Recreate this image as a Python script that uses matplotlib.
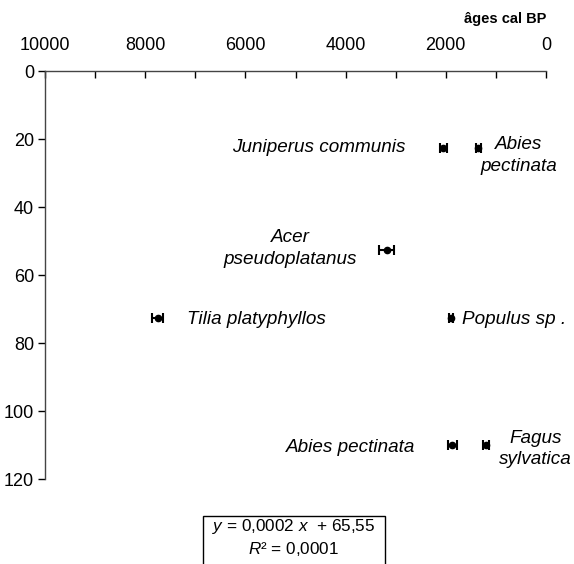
import matplotlib
matplotlib.use("Agg")
import matplotlib.pyplot as plt
from matplotlib.patches import Rectangle

plt.rcParams["font.family"] = ["Liberation Sans", "DejaVu Sans"]
plt.rcParams["mathtext.fontset"] = "custom"
plt.rcParams["mathtext.rm"] = "Liberation Sans"
plt.rcParams["mathtext.it"] = "Liberation Sans:italic"

# --------------------

taxa = ["Juniperus communis", "Abies\npectinata", "Acer\npseudoplatanus",
        "Tilia platyphyllos", "Populus sp .", "Abies pectinata", "Fagus\nsylvatica"]
ages = [2050, 1350, 3180, 7750, 1890, 1870, 1190]
age_err = [70, 50, 150, 110, 40, 90, 60]
depth = [22.5, 22.5, 52.5, 72.5, 72.5, 110, 110]

# label offsets in pixels (dx, dy) and alignment
label_pos = [(-38, 0, "right"), (40, -8, "center"), (-96, 1, "center"),
             (29, -2, "left"), (11, -2, "left"), (-37, -3, "right"), (49, -4, "center")]

# --------------------

fig = plt.figure(figsize = (5.74, 5.64), dpi = 100)
ax = fig.add_axes([45 / 574, 1 - 479 / 564, (546 - 45) / 574, (479 - 71) / 564])

ax.errorbar(ages, depth, xerr = age_err, fmt = "o", color = "black",
            markersize = 4.5, elinewidth = 1.5, capsize = 3.5, capthick = 1.5)

for name, x, y, (dx, dy, ha) in zip(taxa, ages, depth, label_pos):
    ax.annotate(name, (x, y), xytext = (dx, dy), textcoords = "offset pixels",
                ha = ha, va = "center", fontsize = 13.6, style = "italic",
                linespacing = 1.35)

ax.set_xlim(10000, 0)
ax.set_ylim(120, 0)
ax.xaxis.tick_top()
ax.set_xticks(range(0, 10001, 2000))
ax.set_xticks(range(1000, 10000, 2000), minor = True)
ax.set_yticks(range(0, 121, 20))
ax.tick_params(axis = "x", which = "both", direction = "in", length = 5,
               width = 1, labelsize = 13, pad = 12)
ax.tick_params(axis = "y", direction = "out", length = 5, width = 1,
               labelsize = 13, pad = 3)
ax.spines["right"].set_visible(False)
ax.spines["bottom"].set_visible(False)
for s in ["top", "left"]:
    ax.spines[s].set_color("#444444")
    ax.spines[s].set_linewidth(1)

fig.text(546 / 574, 1 - 19 / 564, "âges cal BP", ha = "right", va = "center",
         fontsize = 10.5, fontweight = "bold")

# regression box
fig.patches.append(Rectangle((203 / 574, -0.05), (385 - 203) / 574, 0.05 + 48 / 564,
                             transform = fig.transFigure, fill = False,
                             edgecolor = "black", linewidth = 1))
fig.text(294 / 574, 1 - 527 / 564, r"$\it{y}$ = 0,0002 $\it{x}$  + 65,55",
         ha = "center", va = "center", fontsize = 12.3)
fig.text(294 / 574, 1 - 549 / 564, r"$\it{R}$² = 0,0001",
         ha = "center", va = "center", fontsize = 12.3)

plt.savefig("out.png", dpi = 100)
